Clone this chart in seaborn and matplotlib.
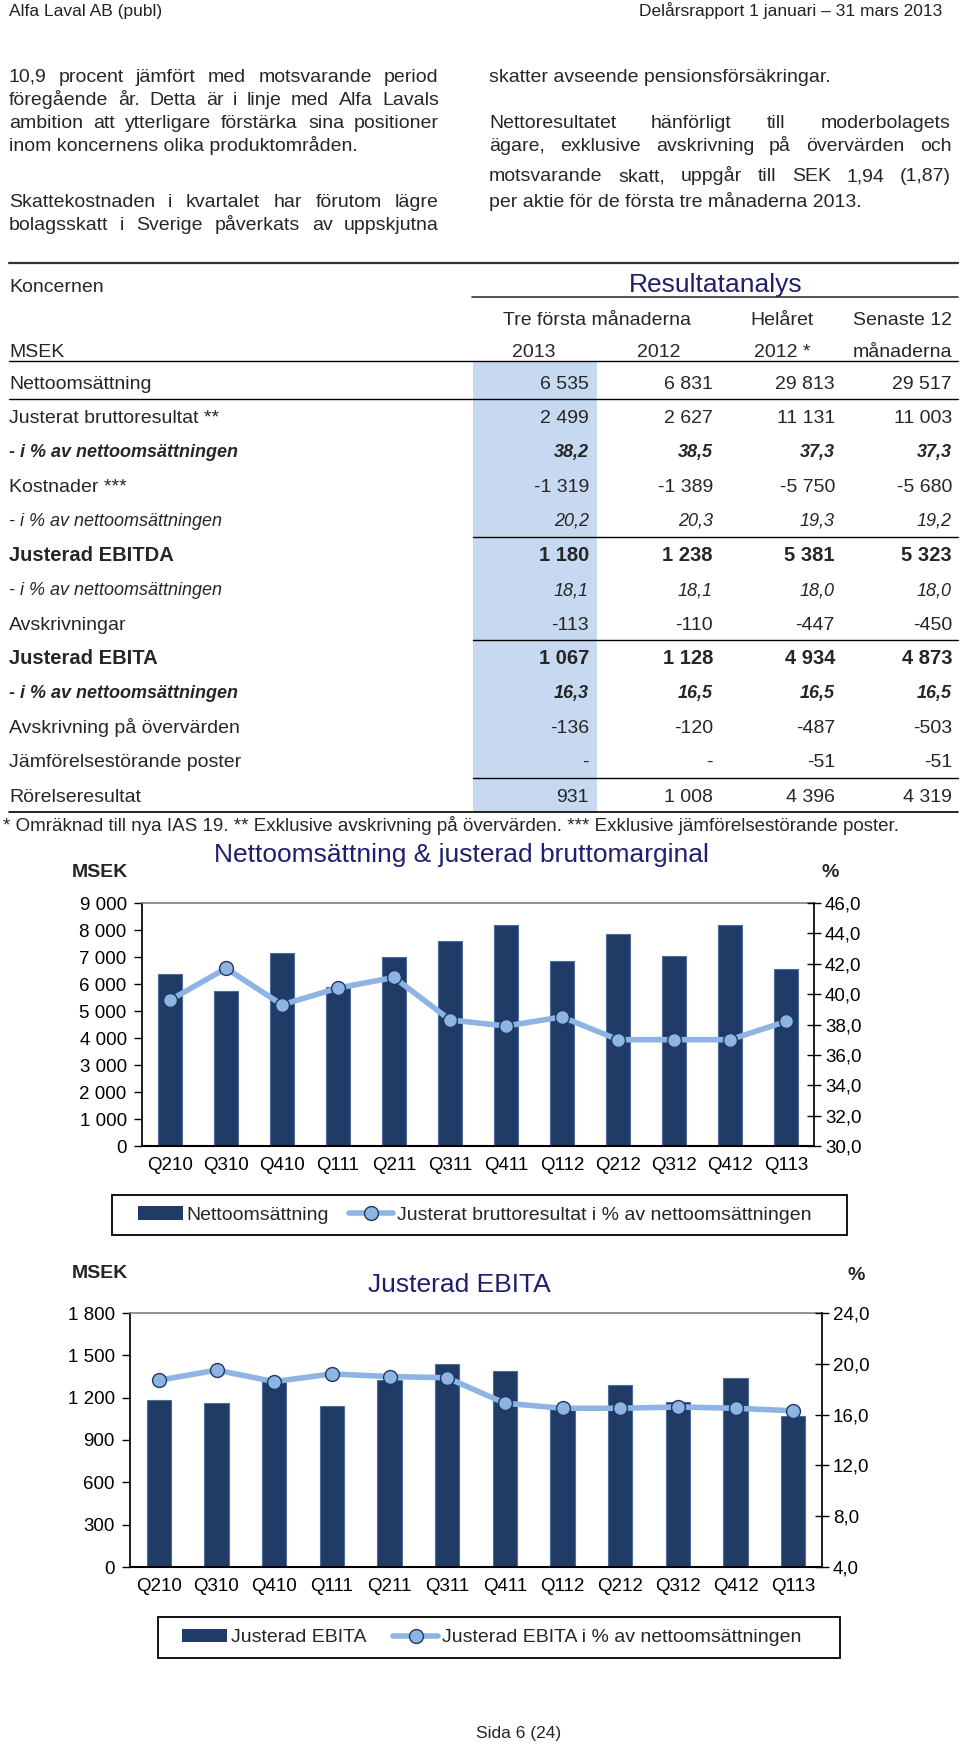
import numpy as np
import pandas as pd
import matplotlib
matplotlib.use("Agg")
import matplotlib.pyplot as plt
import seaborn as sns
from matplotlib.lines import Line2D
from matplotlib.patches import Rectangle, Patch

sns.set_theme(style="white")
plt.rcParams["font.family"] = ["Liberation Sans", "DejaVu Sans"]

# ---- data ----
quarters = ["Q210", "Q310", "Q410", "Q111", "Q211", "Q311",
            "Q411", "Q112", "Q212", "Q312", "Q412", "Q113"]
net_sales = [6360, 5740, 7150, 5900, 7000, 7590, 8170, 6850, 7870, 7030, 8180, 6540]
gross_margin = [39.6, 41.7, 39.3, 40.4, 41.1, 38.3, 37.9, 38.5, 37.0, 37.0, 37.0, 38.2]
ebita = [1180, 1165, 1320, 1140, 1325, 1440, 1390, 1128, 1290, 1170, 1340, 1067]
ebita_margin = [18.7, 19.5, 18.6, 19.2, 19.0, 18.9, 16.9, 16.5, 16.5, 16.6, 16.5, 16.3]

sales_ticks = [0, 1000, 2000, 3000, 4000, 5000, 6000, 7000, 8000, 9000]
sales_labels = ["0", "1 000", "2 000", "3 000", "4 000", "5 000", "6 000", "7 000", "8 000", "9 000"]
gm_ticks = [30, 32, 34, 36, 38, 40, 42, 44, 46]
gm_labels = ["30,0", "32,0", "34,0", "36,0", "38,0", "40,0", "42,0", "44,0", "46,0"]
ebita_ticks = [0, 300, 600, 900, 1200, 1500, 1800]
ebita_labels = ["0", "300", "600", "900", "1 200", "1 500", "1 800"]
em_ticks = [4, 8, 12, 16, 20, 24]
em_labels = ["4,0", "8,0", "12,0", "16,0", "20,0", "24,0"]

left_text = [
    ("10,9 procent jämfört med motsvarande period", True),
    ("föregående år. Detta är i linje med Alfa Lavals", True),
    ("ambition att ytterligare förstärka sina positioner", True),
    ("inom koncernens olika produktområden.", False),
    ("Skattekostnaden i kvartalet har förutom lägre", True),
    ("bolagsskatt i Sverige påverkats av uppskjutna", True),
]
right_text = [
    ("skatter avseende pensionsförsäkringar.", False),
    ("Nettoresultatet hänförligt till moderbolagets", True),
    ("ägare, exklusive avskrivning på övervärden och", True),
    ("motsvarande skatt, uppgår till SEK 1,94 (1,87)", True),
    ("per aktie för de första tre månaderna 2013.", False),
]

row_labels = ["Nettoomsättning", "Justerat bruttoresultat **", "- i % av nettoomsättningen",
              "Kostnader ***", "- i % av nettoomsättningen", "Justerad EBITDA",
              "- i % av nettoomsättningen", "Avskrivningar", "Justerad EBITA",
              "- i % av nettoomsättningen", "Avskrivning på övervärden",
              "Jämförelsestörande poster", "Rörelseresultat"]
row_style = ["n", "n", "bi", "n", "i", "b", "i", "n", "b", "bi", "n", "n", "n"]
q1_2013 = ["6 535", "2 499", "38,2", "-1 319", "20,2", "1 180", "18,1", "-113", "1 067", "16,3", "-136", "-", "931"]
q1_2012 = ["6 831", "2 627", "38,5", "-1 389", "20,3", "1 238", "18,1", "-110", "1 128", "16,5", "-120", "-", "1 008"]
full_2012 = ["29 813", "11 131", "37,3", "-5 750", "19,3", "5 381", "18,0", "-447", "4 934", "16,5", "-487", "-51", "4 396"]
last_12m = ["29 517", "11 003", "37,3", "-5 680", "19,2", "5 323", "18,0", "-450", "4 873", "16,5", "-503", "-51", "4 319"]

BAR = "#1f3b66"
BAR_EDGE = "#4d6d9c"
LINE = "#8db4e2"
EDGE = "#1f3864"
NAVY = "#1f1f6e"

W, H = 960, 1744
fig = plt.figure(figsize=(9.6, 17.44), dpi=100)
fig.patch.set_facecolor("white")
renderer = fig.canvas.get_renderer()


def fx(x):
    return x / W


def fy(y):
    return 1 - y / H


def put(x, y, s, size=14, ha="left", **kw):
    # y is the visual centre of the capitals; snap the baseline to a whole pixel
    base = round(y + 0.36 * size * 100 / 72)
    return fig.text(fx(x), fy(base), s, ha=ha, va="baseline", fontsize=size, **kw)


def hline(x0, x1, y, lw=1.0, color="black"):
    fig.add_artist(Line2D([fx(x0), fx(x1)], [fy(y), fy(y)], lw=lw, color=color,
                          transform=fig.transFigure))


def justify(x0, x1, y, line, size):
    words = line.split()
    objs = [put(x0, y, w, size) for w in words]
    widths = [o.get_window_extent(renderer).width for o in objs]
    gap = (x1 - x0 - sum(widths)) / (len(words) - 1)
    x = x0
    for o, w in zip(objs, widths):
        o.set_x(fx(round(x)))
        x += w + gap


# header
put(9, 10, "Alfa Laval AB (publ)", 12.5, color="#222222")
put(942, 10, "Delårsrapport 1 januari – 31 mars 2013", 12.5, ha="right", color="#222222")

# body text
body_size = 14
for (line, just), y in zip(left_text, [75, 98, 121, 144, 200, 223]):
    if just:
        justify(9, 439, y, line, body_size)
    else:
        put(9, y, line, body_size)
for (line, just), y in zip(right_text, [75, 121, 144, 174, 200]):
    if just:
        justify(489, 951, y, line, body_size)
    else:
        put(489, y, line, body_size)

# ---- table ----
pitch = 34.4
row_y = [382 + pitch * i for i in range(len(row_labels))]
bottom = 382 + pitch * 12.5

fig.add_artist(Rectangle((fx(473), fy(bottom)), (597 - 473) / W, (bottom - 361) / H,
                         transform=fig.transFigure, facecolor="#c6d9f0", edgecolor="none"))
hline(9, 958, 263, 1.6, "#333333")
hline(472, 958, 297, 1.2, "#333333")
hline(9, 958, 361, 1.0)
hline(9, 958, 382 + pitch * 0.5, 1.0)
hline(473, 958, 382 + pitch * 4.5, 1.0)
hline(473, 958, 382 + pitch * 7.5, 1.0)
hline(473, 958, 382 + pitch * 11.5, 1.0)
hline(9, 958, bottom, 1.2)

put(9, 285, "Koncernen", 14)
put(716, 282, "Resultatanalys", 19, ha="center", color=NAVY)
put(597, 318, "Tre första månaderna", 14, ha="center")
put(782, 318, "Helåret", 14, ha="center")
put(952, 318, "Senaste 12", 14, ha="right")
put(9, 350, "MSEK", 14)
put(534, 350, "2013", 14, ha="center")
put(659, 350, "2012", 14, ha="center")
put(782, 350, "2012 *", 14, ha="center")
put(952, 350, "månaderna", 14, ha="right")

col_right = [589, 713, 835, 952]
styles = {"n": dict(size=14),
          "b": dict(size=14.5, fontweight="bold"),
          "i": dict(size=13, style="italic"),
          "bi": dict(size=13, style="italic", fontweight="bold")}
for i, y in enumerate(row_y):
    st = styles[row_style[i]]
    put(9, y, row_labels[i], **st)
    for xr, col in zip(col_right, [q1_2013, q1_2012, full_2012, last_12m]):
        put(xr, y, col[i], ha="right", **st)

put(3, bottom + 12, "* Omräknad till nya IAS 19. ** Exklusive avskrivning på övervärden. "
                    "*** Exklusive jämförelsestörande poster.", 13.5)


# ---- charts ----
def combo_chart(box, values, pct, ylim, yticks, ylabels, plim, pticks, plabels):
    x0, y0, x1, y1 = box
    ax = fig.add_axes([fx(x0), fy(y1), (x1 - x0) / W, (y1 - y0) / H])
    df = pd.DataFrame({"quarter": quarters, "value": values})
    sns.barplot(data=df, x="quarter", y="value", color=BAR, saturation=1,
                width=0.42, edgecolor=BAR_EDGE, linewidth=0.8, ax=ax)
    ax.set_xlim(-0.5, len(quarters) - 0.5)
    ax.set_ylim(*ylim)
    ax.set_yticks(yticks)
    ax.set_yticklabels(ylabels)
    ax.set_xlabel("")
    ax.set_ylabel("")
    ax.tick_params(axis="y", left=True, direction="out", length=6, width=1,
                   pad=5, labelsize=13.5, colors="black")
    ax.tick_params(axis="x", bottom=False, pad=2, labelsize=13.5, colors="black")
    ax.spines["top"].set_color("#808080")
    ax.spines["top"].set_linewidth(1.2)
    ax.spines["left"].set_color("black")
    ax.spines["bottom"].set_color("black")
    ax.spines["bottom"].set_linewidth(1.5)
    ax.spines["right"].set_visible(False)

    ax2 = ax.twinx()
    sns.lineplot(x=np.arange(len(pct)), y=pct, ax=ax2, color=LINE, linewidth=4,
                 marker="o", markersize=10, markerfacecolor=LINE,
                 markeredgecolor=EDGE, markeredgewidth=1)
    ax2.set_xlim(-0.5, len(quarters) - 0.5)
    ax2.set_ylim(*plim)
    ax2.set_yticks(pticks)
    ax2.set_yticklabels(plabels)
    ax2.set_ylabel("")
    ax2.tick_params(axis="y", right=True, direction="inout", length=10, width=1,
                    pad=3, labelsize=13.5, colors="black")
    for s in ["top", "left", "bottom"]:
        ax2.spines[s].set_visible(False)
    ax2.spines["right"].set_color("black")
    return ax, ax2


def legend_box(x0, x1, y0, y1, start, labels, colspace):
    fig.add_artist(Rectangle((fx(x0), fy(y1)), (x1 - x0) / W, (y1 - y0) / H,
                             transform=fig.transFigure, facecolor="white",
                             edgecolor="black", lw=1.3))
    handles = [Patch(facecolor=BAR, edgecolor="none"),
               Line2D([], [], color=LINE, lw=4, marker="o", ms=10,
                      mfc=LINE, mec=EDGE, mew=1)]
    fig.legend(handles, labels, loc="center left",
               bbox_to_anchor=(fx(start), fy((y0 + y1) / 2)), ncol=2,
               frameon=False, fontsize=14, handlelength=2.3, handletextpad=0.2,
               columnspacing=colspace, borderpad=0, borderaxespad=0)


# chart 1
combo_chart((142, 903, 814, 1146), net_sales, gross_margin, (0, 9000),
            sales_ticks, sales_labels, (30, 46), gm_ticks, gm_labels)
put(461, 853, "Nettoomsättning & justerad bruttomarginal", 19, ha="center", color=NAVY)
put(72, 870, "MSEK", 14, fontweight="bold")
put(822, 870, "%", 14, fontweight="bold")
legend_box(112, 847, 1195, 1235, 138,
           ["Nettoomsättning", "Justerat bruttoresultat i % av nettoomsättningen"], 1.0)

# chart 2
combo_chart((130, 1313, 822, 1567), ebita, ebita_margin, (0, 1800),
            ebita_ticks, ebita_labels, (4, 24), em_ticks, em_labels)
put(459, 1283, "Justerad EBITA", 19, ha="center", color=NAVY)
put(72, 1271, "MSEK", 14, fontweight="bold")
put(848, 1273, "%", 14, fontweight="bold")
legend_box(158, 840, 1617, 1658, 182,
           ["Justerad EBITA", "Justerad EBITA i % av nettoomsättningen"], 1.4)

put(519, 1732, "Sida 6 (24)", 12.5, ha="center")

fig.savefig("out.png", dpi=100, facecolor="white")
